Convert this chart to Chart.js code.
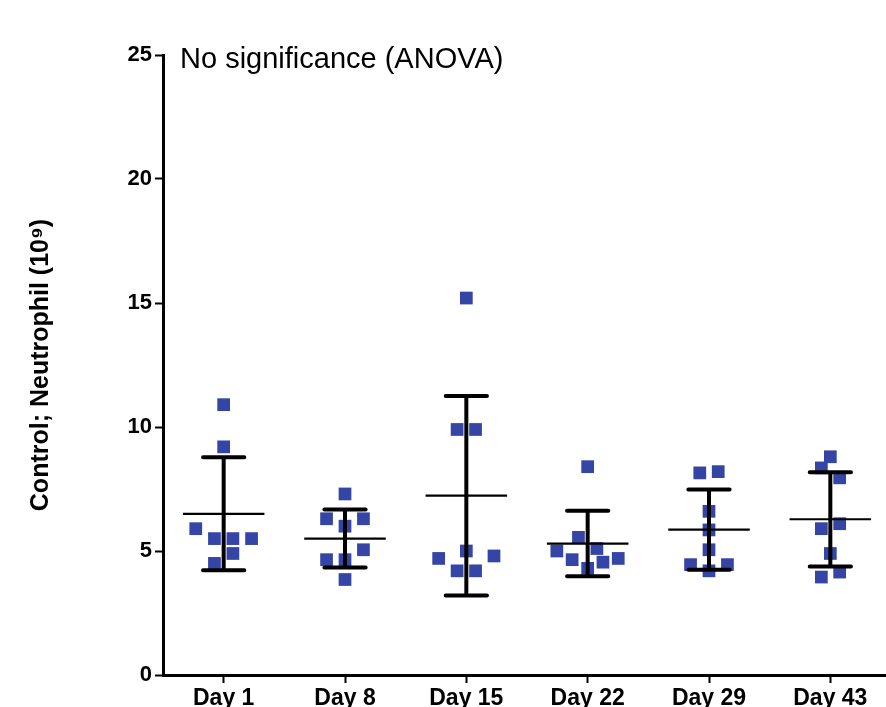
<!DOCTYPE html>
<html>
<head>
<meta charset="utf-8">
<script src="https://cdn.jsdelivr.net/npm/chart.js@4.4.0/dist/chart.umd.min.js"></script>
<style>
  html, body { margin: 0; padding: 0; background: #fff; overflow: hidden; }
  canvas { display: block; }
</style>
</head>
<body>
<canvas id="grafico" width="900" height="707"></canvas>
<script>
// categorias y valores
const dias = ['Day 1', 'Day 8', 'Day 15', 'Day 22', 'Day 29', 'Day 43'];
const ticksY = [0, 5, 10, 15, 20, 25];

const dia1  = [10.9, 9.2, 5.9, 5.5, 5.5, 5.5, 4.9, 4.5];
const dia8  = [7.3, 6.3, 6.3, 6.0, 5.05, 4.65, 4.65, 3.85];
const dia15 = [15.2, 9.9, 9.9, 5.0, 4.7, 4.8, 4.2, 4.2];
const dia22 = [8.4, 5.55, 5.0, 5.1, 4.65, 4.55, 4.7, 4.3];
const dia29 = [8.15, 8.2, 6.6, 5.85, 5.05, 4.45, 4.45, 4.2];
const dia43 = [8.8, 8.35, 7.95, 5.9, 6.1, 4.9, 3.95, 4.15];

const medias = [6.5, 5.5, 7.23, 5.3, 5.86, 6.28];
const desvios = [2.28, 1.17, 4.02, 1.32, 1.62, 1.9];

// desplazamiento horizontal de cada punto (dispersion tipo GraphPad)
const jit1  = [0, 0, -0.23, -0.076, 0.076, 0.23, 0.076, -0.076];
const jit8  = [0, -0.152, 0.152, 0, 0.152, -0.152, 0, 0];
const jit15 = [0, -0.076, 0.076, 0, -0.228, 0.228, -0.076, 0.076];
const jit22 = [0, -0.076, -0.254, 0.076, -0.128, 0.126, 0.252, 0];
const jit29 = [-0.076, 0.076, 0, 0, 0, -0.152, 0.152, 0];
const jit43 = [0, -0.074, 0.077, -0.074, 0.077, 0, -0.074, 0.077];

const valores = [dia1, dia8, dia15, dia22, dia29, dia43];
const jitters = [jit1, jit8, jit15, jit22, jit29, jit43];

const azul = '#3545a6';

const datasets = valores.map(function (vals, i) {
    return {
        label: dias[i],
        data: vals.map(function (v, k) { return { x: i + jitters[i][k], y: v }; }),
        backgroundColor: azul,
        borderWidth: 0,
        pointStyle: 'rect',
        pointRadius: 9,
        pointHoverRadius: 9
    };
});

// media +/- DE dibujadas con las escalas del grafico
const barrasError = {
    id: 'barrasError',
    afterDatasetsDraw(chart) {
        const ctx = chart.ctx;
        const x = chart.scales.x;
        const y = chart.scales.y;
        ctx.save();
        ctx.strokeStyle = '#000';
        medias.forEach(function (m, i) {
            const cx = x.getPixelForValue(i);
            const yTop = y.getPixelForValue(m + desvios[i]);
            const yBot = y.getPixelForValue(m - desvios[i]);
            const yMed = y.getPixelForValue(m);
            ctx.lineWidth = 4;
            ctx.lineCap = 'round';
            ctx.beginPath();
            ctx.moveTo(cx, yTop); ctx.lineTo(cx, yBot);
            ctx.moveTo(x.getPixelForValue(i - 0.17), yTop); ctx.lineTo(x.getPixelForValue(i + 0.17), yTop);
            ctx.moveTo(x.getPixelForValue(i - 0.17), yBot); ctx.lineTo(x.getPixelForValue(i + 0.17), yBot);
            ctx.stroke();
            ctx.lineWidth = 2.2;
            ctx.lineCap = 'butt';
            ctx.beginPath();
            ctx.moveTo(x.getPixelForValue(i - 0.336), yMed); ctx.lineTo(x.getPixelForValue(i + 0.336), yMed);
            ctx.stroke();
        });
        ctx.restore();
    },
    afterDraw(chart) {
        const ctx = chart.ctx;
        const y = chart.scales.y;
        ctx.save();
        ctx.fillStyle = '#000';
        ctx.font = '29px "Liberation Sans", Arial, sans-serif';
        ctx.textBaseline = 'alphabetic';
        ctx.textAlign = 'left';
        ctx.fillText('No significance (ANOVA)', chart.chartArea.left + 17, y.getPixelForValue(25) + 13);
        ctx.restore();
    }
};

new Chart(document.getElementById('grafico').getContext('2d'), {
    type: 'scatter',
    data: { datasets: datasets },
    options: {
        responsive: false,
        animation: false,
        layout: { padding: { top: 55, right: 5, left: 0, bottom: 0 } },
        plugins: {
            legend: { display: false },
            tooltip: { enabled: false }
        },
        scales: {
            x: {
                type: 'linear',
                min: -0.5,
                max: 5.5,
                afterFit: function (s) { s.height = 32; },
                afterBuildTicks: function (s) {
                    s.ticks = dias.map(function (d, i) { return { value: i }; });
                },
                grid: { display: true, drawOnChartArea: false, drawTicks: true, tickLength: 8, tickWidth: 2, tickColor: '#000' },
                border: { display: true, color: '#000', width: 3 },
                ticks: {
                    padding: 2,
                    color: '#000',
                    font: { family: '"Liberation Sans", Arial, sans-serif', size: 23, weight: 'bold' },
                    callback: function (v) { return dias[v]; }
                }
            },
            y: {
                min: 0,
                max: 25,
                afterFit: function (s) { s.width = 163; },
                afterBuildTicks: function (s) {
                    s.ticks = ticksY.map(function (v) { return { value: v }; });
                },
                grid: { display: true, drawOnChartArea: false, drawTicks: true, tickLength: 8, tickWidth: 2, tickColor: '#000' },
                border: { display: true, color: '#000', width: 3 },
                ticks: {
                    padding: 3,
                    color: '#000',
                    font: { family: '"Liberation Sans", Arial, sans-serif', size: 22, weight: 'bold' }
                },
                title: {
                    display: true,
                    text: 'Control; Neutrophil (10\u2079)',
                    color: '#000',
                    padding: { top: 26, bottom: 0 },
                    font: { family: '"Liberation Sans", Arial, sans-serif', size: 25, weight: 'bold' }
                }
            }
        }
    },
    plugins: [barrasError]
});
</script>
</body>
</html>
